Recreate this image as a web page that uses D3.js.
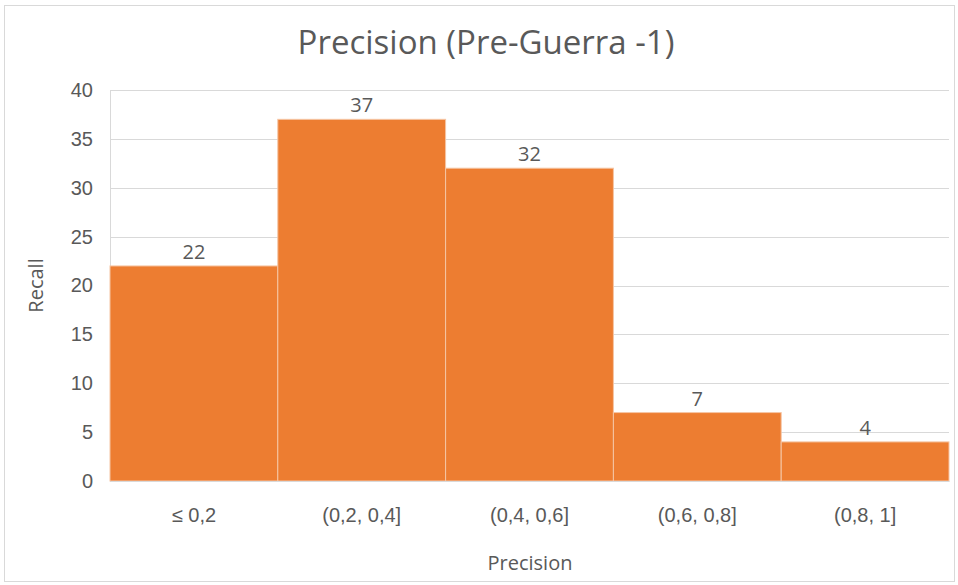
<!DOCTYPE html>
<html>
<head>
<meta charset="utf-8">
<script src="https://cdn.jsdelivr.net/npm/d3@7"></script>
<style>
  html, body { margin: 0; padding: 0; background: #fff; }
  svg { display: block; font-family: "Open Sans", "Noto Sans", sans-serif; }
</style>
</head>
<body>
<svg id="chart" width="958" height="585"></svg>
<script>
// Histogram bins and counts
const categories = ["≤ 0,2", "(0,2, 0,4]", "(0,4, 0,6]", "(0,6, 0,8]", "(0,8, 1]"];
const counts = [22, 37, 32, 7, 4];
const yTicks = [0, 5, 10, 15, 20, 25, 30, 35, 40];
const titleText = "Precision (Pre-Guerra -1)";
const xTitle = "Precision";
const yTitle = "Recall";

const svg = d3.select("#chart");
const W = 958, H = 585;
const margin = { top: 90, right: 9, bottom: 104, left: 110 };
const textColor = "#595959";
const labelSize = "20px";

// chart frame
svg.append("rect")
  .attr("x", 4.5).attr("y", 5.5)
  .attr("width", W - 8).attr("height", H - 9)
  .attr("fill", "#fff").attr("stroke", "#d9d9d9").attr("stroke-width", 1);

const x = d3.scaleBand()
  .domain(categories)
  .range([margin.left, W - margin.right])
  .padding(0);

const y = d3.scaleLinear()
  .domain([0, 40])
  .range([H - margin.bottom, margin.top]);

// horizontal gridlines
svg.append("g")
  .selectAll("line")
  .data(yTicks)
  .join("line")
  .attr("x1", margin.left).attr("x2", W - margin.right)
  .attr("y1", d => Math.round(y(d)) + 0.5).attr("y2", d => Math.round(y(d)) + 0.5)
  .attr("stroke", "#d9d9d9").attr("stroke-width", 1);

// y axis
const yAxis = svg.append("g")
  .attr("transform", `translate(${margin.left},0)`)
  .call(d3.axisLeft(y).tickValues(yTicks).tickSize(0).tickPadding(17));
yAxis.select(".domain").attr("stroke", "#d9d9d9");
yAxis.selectAll("text")
  .attr("fill", textColor)
  .style("font-size", labelSize);

// bars
svg.append("g")
  .selectAll("rect")
  .data(counts)
  .join("rect")
  .attr("x", (d, i) => x(categories[i]))
  .attr("y", d => y(d))
  .attr("width", x.bandwidth())
  .attr("height", d => y(0) - y(d))
  .attr("fill", "#ED7D31")
  .attr("stroke", "#f6c5a4")
  .attr("stroke-width", 1);

// x axis
const xAxis = svg.append("g")
  .attr("transform", `translate(0,${y(0)})`)
  .call(d3.axisBottom(x).tickSize(0).tickPadding(27));
xAxis.select(".domain").attr("stroke", "#d9d9d9");
xAxis.selectAll("text")
  .attr("fill", textColor)
  .style("font-size", labelSize);

// value labels
svg.append("g")
  .selectAll("text")
  .data(counts)
  .join("text")
  .attr("x", (d, i) => x(categories[i]) + x.bandwidth() / 2)
  .attr("y", d => y(d) - 7)
  .attr("text-anchor", "middle")
  .attr("fill", textColor)
  .style("font-size", labelSize)
  .text(d => d);

// title
svg.append("text")
  .attr("x", 486).attr("y", 54)
  .attr("text-anchor", "middle")
  .attr("fill", textColor)
  .style("font-size", "33px")
  .text(titleText);

// axis titles
svg.append("text")
  .attr("x", 530).attr("y", 570)
  .attr("text-anchor", "middle")
  .attr("fill", textColor)
  .style("font-size", labelSize)
  .text(xTitle);

svg.append("text")
  .attr("transform", `translate(43,${(margin.top + H - margin.bottom) / 2}) rotate(-90)`)
  .attr("text-anchor", "middle")
  .attr("fill", textColor)
  .style("font-size", labelSize)
  .text(yTitle);
</script>
</body>
</html>
